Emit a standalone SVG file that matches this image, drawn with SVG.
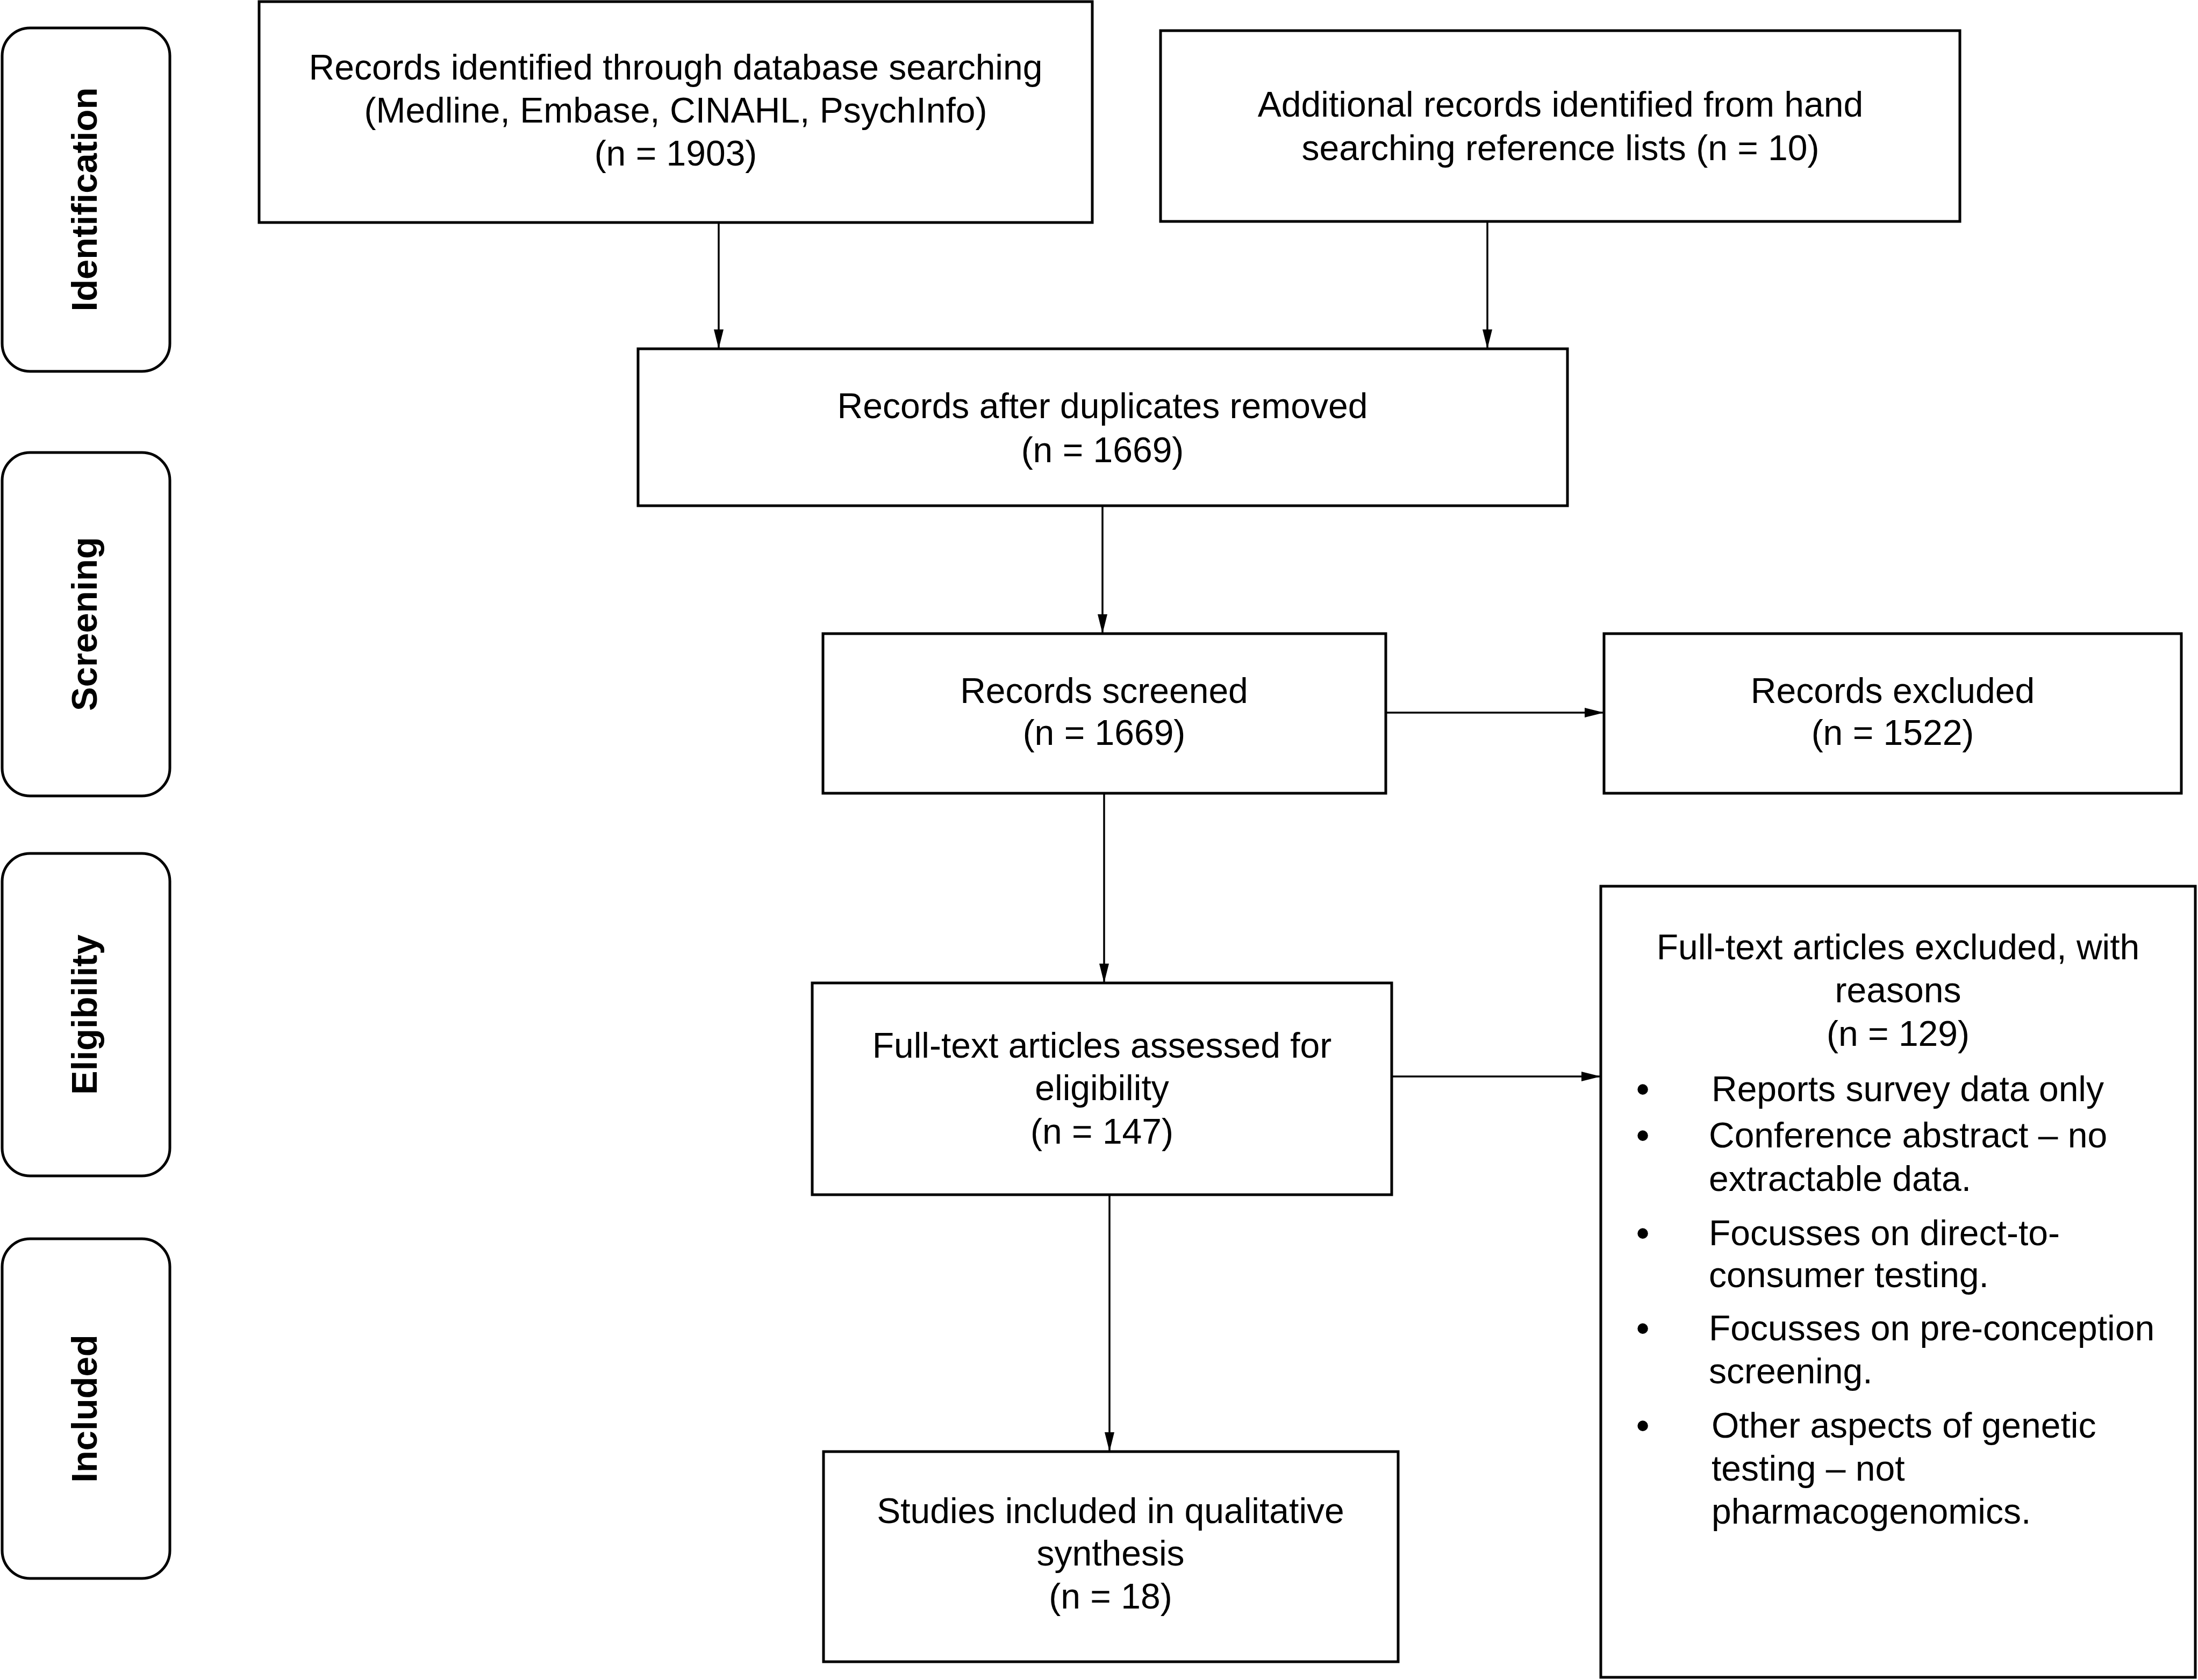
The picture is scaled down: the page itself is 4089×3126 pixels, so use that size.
<svg xmlns="http://www.w3.org/2000/svg" width="4089" height="3126" viewBox="0 0 4089 3126">
<defs>
<style>
.box{fill:#fff;stroke:#000;stroke-width:5}
.side{fill:#fff;stroke:#000;stroke-width:5}
.t{font-family:"Liberation Sans",Arial,Helvetica,sans-serif;font-size:66px;fill:#000;text-anchor:middle}
.tl{font-family:"Liberation Sans",Arial,Helvetica,sans-serif;font-size:66px;fill:#000;text-anchor:start}
.b{font-family:"Liberation Sans",Arial,Helvetica,sans-serif;font-size:72px;fill:#000;text-anchor:middle}
.st{font-family:"Liberation Sans",Arial,Helvetica,sans-serif;font-size:67px;font-weight:bold;fill:#000;text-anchor:middle}
.c{fill:none;stroke:#000;stroke-width:3.5}
</style>
<marker id="ah" markerUnits="userSpaceOnUse" markerWidth="36" markerHeight="18" refX="36" refY="9" orient="auto">
<path d="M0,0 L36,9 L0,18 z" fill="#000"/>
</marker>
</defs>
<rect width="4089" height="3126" fill="#fff"/>

<g id="stage-identification">
<rect class="side" x="4" y="52" width="312" height="639" rx="52" ry="52"/>
<text class="st" transform="translate(180,371) rotate(-90)">Identification</text>
</g>
<g id="stage-screening">
<rect class="side" x="4" y="842" width="312" height="639" rx="52" ry="52"/>
<text class="st" transform="translate(180,1161) rotate(-90)">Screening</text>
</g>
<g id="stage-eligibility">
<rect class="side" x="4" y="1588" width="312" height="600" rx="52" ry="52"/>
<text class="st" transform="translate(180,1888) rotate(-90)">Eligibility</text>
</g>
<g id="stage-included">
<rect class="side" x="4" y="2305" width="312" height="632" rx="52" ry="52"/>
<text class="st" transform="translate(180,2621) rotate(-90)">Included</text>
</g>

<g id="connectors">
<line class="c" x1="1337" y1="414" x2="1337" y2="649" marker-end="url(#ah)"/>
<line class="c" x1="2767" y1="412" x2="2767" y2="649" marker-end="url(#ah)"/>
<line class="c" x1="2051" y1="941" x2="2051" y2="1179" marker-end="url(#ah)"/>
<line class="c" x1="2578" y1="1326" x2="2984" y2="1326" marker-end="url(#ah)"/>
<line class="c" x1="2054" y1="1476" x2="2054" y2="1829" marker-end="url(#ah)"/>
<line class="c" x1="2589" y1="2003" x2="2978" y2="2003" marker-end="url(#ah)"/>
<line class="c" x1="2064" y1="2223" x2="2064" y2="2701" marker-end="url(#ah)"/>
</g>

<g id="records-database">
<rect class="box" x="482" y="3" width="1550" height="411"/>
<text class="t" x="1257" y="148">Records identified through database searching</text>
<text class="t" x="1257" y="228">(Medline, Embase, CINAHL, PsychInfo)</text>
<text class="t" x="1257" y="308">(n = 1903)</text>
</g>
<g id="records-additional">
<rect class="box" x="2159" y="57" width="1487" height="355"/>
<text class="t" x="2903" y="217">Additional records identified from hand</text>
<text class="t" x="2903" y="298">searching reference lists (n = 10)</text>
</g>
<g id="records-deduplicated">
<rect class="box" x="1187" y="649" width="1729" height="292"/>
<text class="t" x="2051" y="778">Records after duplicates removed</text>
<text class="t" x="2051" y="860">(n = 1669)</text>
</g>
<g id="records-screened">
<rect class="box" x="1531" y="1179" width="1047" height="297"/>
<text class="t" x="2054" y="1308">Records screened</text>
<text class="t" x="2054" y="1386">(n = 1669)</text>
</g>
<g id="records-excluded">
<rect class="box" x="2984" y="1179" width="1074" height="297"/>
<text class="t" x="3521" y="1308">Records excluded</text>
<text class="t" x="3521" y="1386">(n = 1522)</text>
</g>
<g id="fulltext-assessed">
<rect class="box" x="1511" y="1829" width="1078" height="394"/>
<text class="t" x="2050" y="1968">Full-text articles assessed for</text>
<text class="t" x="2050" y="2047">eligibility</text>
<text class="t" x="2050" y="2128">(n = 147)</text>
</g>
<g id="fulltext-excluded">
<rect class="box" x="2978" y="1649" width="1106" height="1472"/>
<text class="t" x="3531" y="1785">Full-text articles excluded, with</text>
<text class="t" x="3531" y="1865">reasons</text>
<text class="t" x="3531" y="1946">(n = 129)</text>
<text class="b" x="3056" y="2051">•</text>
<text class="tl" x="3184" y="2049">Reports survey data only</text>
<text class="b" x="3056" y="2137">•</text>
<text class="tl" x="3179" y="2135">Conference abstract – no</text>
<text class="tl" x="3179" y="2216">extractable data.</text>
<text class="b" x="3056" y="2319">•</text>
<text class="tl" x="3179" y="2317">Focusses on direct-to-</text>
<text class="tl" x="3179" y="2395">consumer testing.</text>
<text class="b" x="3056" y="2496">•</text>
<text class="tl" x="3179" y="2494">Focusses on pre-conception</text>
<text class="tl" x="3179" y="2574">screening.</text>
<text class="b" x="3056" y="2677">•</text>
<text class="tl" x="3184" y="2675">Other aspects of genetic</text>
<text class="tl" x="3184" y="2755">testing – not</text>
<text class="tl" x="3184" y="2835">pharmacogenomics.</text>
</g>
<g id="studies-included">
<rect class="box" x="1532" y="2701" width="1069" height="391"/>
<text class="t" x="2066" y="2834">Studies included in qualitative</text>
<text class="t" x="2066" y="2913">synthesis</text>
<text class="t" x="2066" y="2993">(n = 18)</text>
</g>
</svg>
